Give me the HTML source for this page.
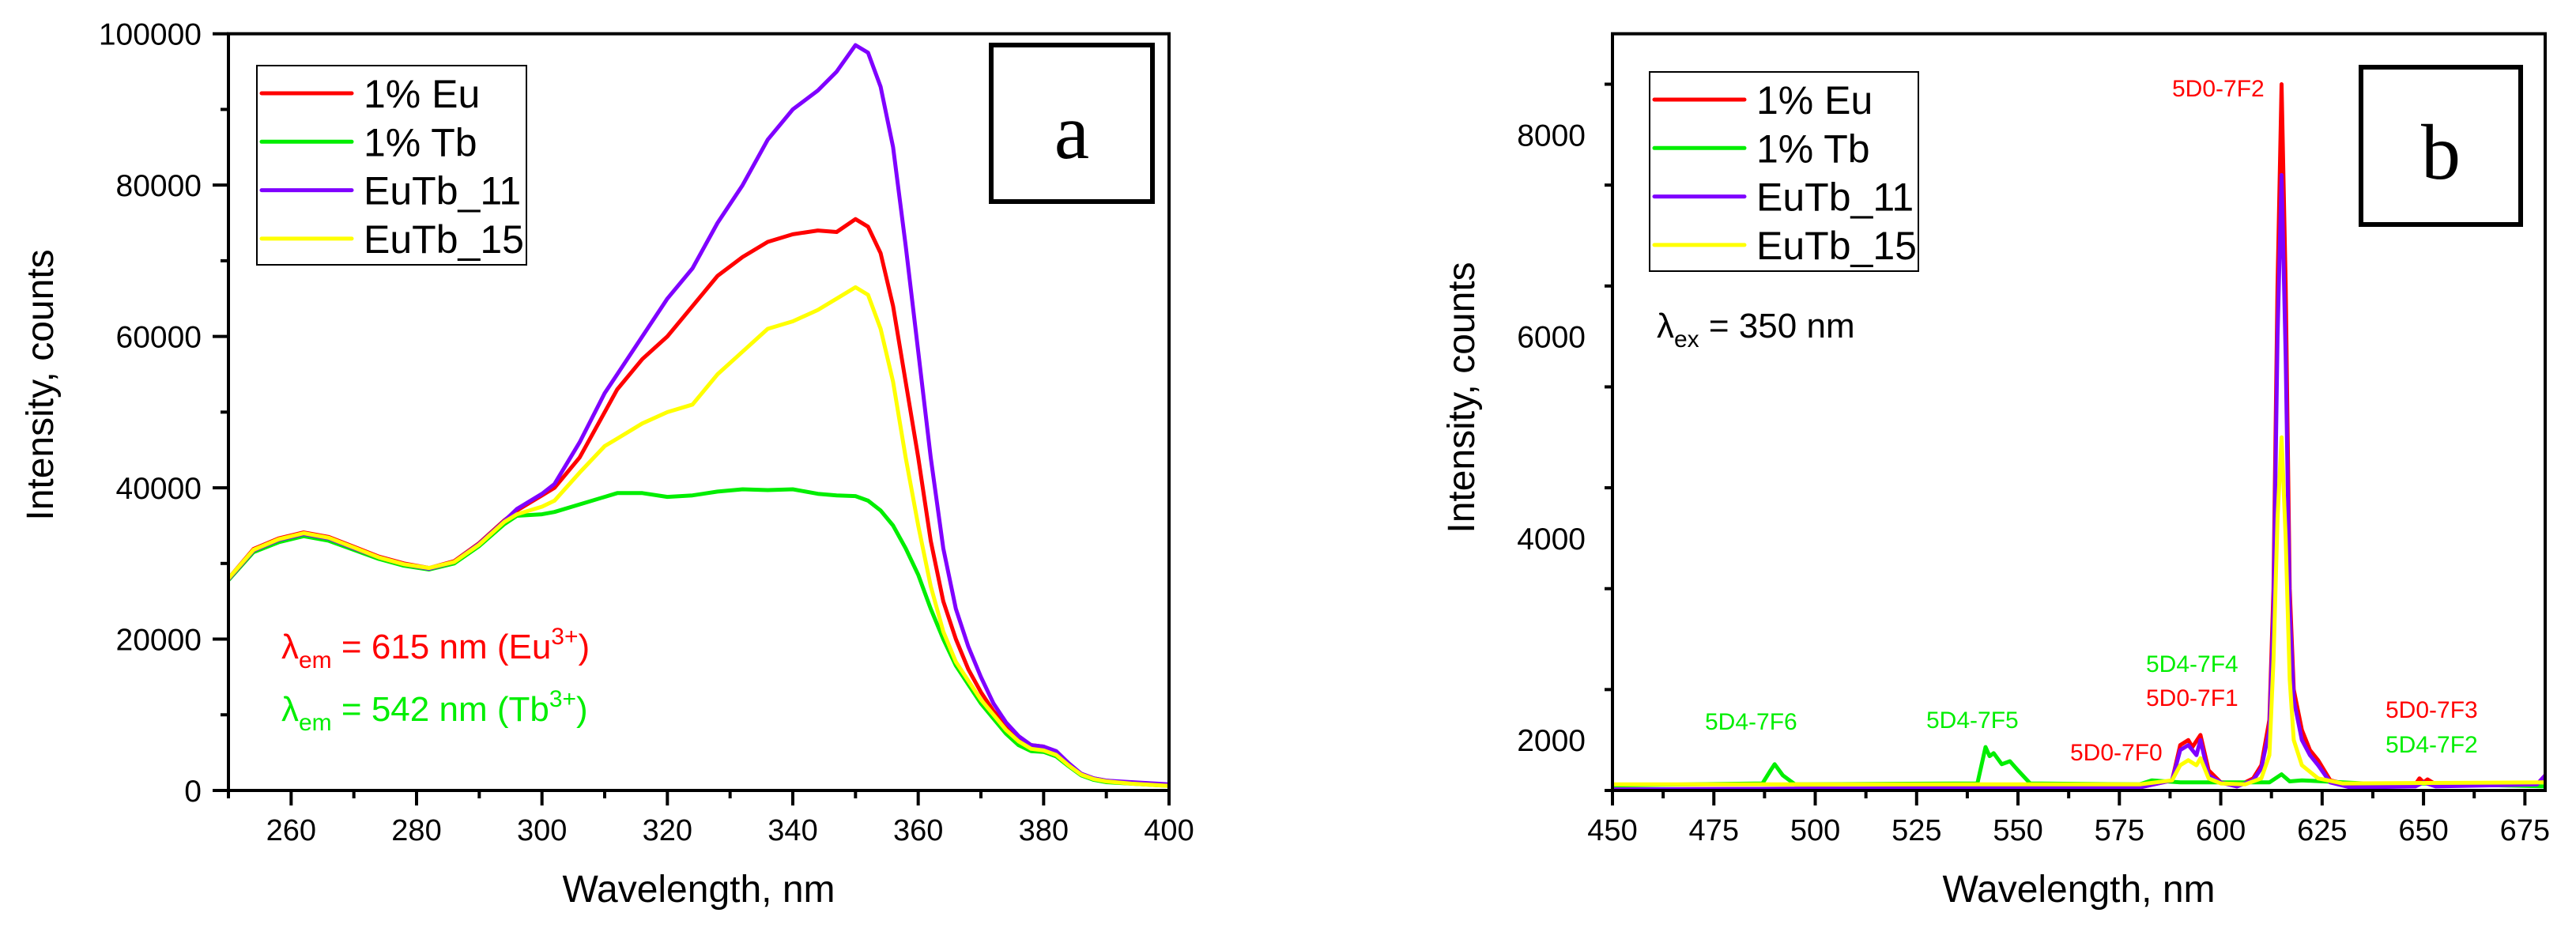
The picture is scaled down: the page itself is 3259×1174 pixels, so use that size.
<!DOCTYPE html>
<html><head><meta charset="utf-8">
<style>
html,body{margin:0;padding:0;background:#fff;}
svg{display:block;font-family:"Liberation Sans",Arial,sans-serif;}
</style></head>
<body>
<svg id="fig" xmlns="http://www.w3.org/2000/svg" width="3259" height="1174" viewBox="0 0 3259 1174">
<rect width="3259" height="1174" fill="#fff"/>
<g id="pa"></g>
<g id="pb"></g>
</svg>
<script>
// ---- Panel a data (excitation spectra) ----
const xA = [250,254,258,262,266,270,274,278,282,286,290,294,296,300,302,306,310,312,316,320,324,328,332,336,340,344,347,350,352,354,356,358,360,362,364,366,368,370,372,374,376,378,380,382,384,386,388,390,394,400];
const euEarlyA = [28000,31900,33300,34100,33500,32200,30900,30000,29400,30300,32700,35700];
const tbEarlyA = [27800,31500,32800,33600,33000,31800,30600,29700,29200,30000,32300,35200];
const p11EarlyA = [27900,31700,33100,33900,33300,32000,30800,29900,29300,30200,32600,35600];
const p15EarlyA = [28000,31800,33200,34000,33400,32100,30800,29900,29400,30200,32500,35500];
const euA = [37000,39000,40000,44000,50000,53000,57000,60000,64000,68000,70500,72500,73500,74000,73800,75500,74500,71000,64000,54000,44000,33000,25000,20000,16000,13000,10500,8500,7000,6000,5800,5000,3500,2200,1600,1300,1000,700];
const tbA = [36300,36500,36800,37800,38800,39300,39300,38800,39000,39500,39800,39700,39800,39200,39000,38900,38300,37000,35000,32000,28500,24000,20000,16500,14000,11500,9500,7500,6000,5200,5100,4500,3200,2000,1400,1100,900,600];
const eutb11A = [37200,39200,40500,46000,52500,55000,60000,65000,69000,75000,80000,86000,90000,92500,95000,98500,97500,93000,85000,72000,58000,44000,32000,24000,19000,15000,11500,9000,7200,6000,5800,5200,3600,2200,1600,1300,1100,800];
const eutb15A = [36500,37500,38300,42000,45500,46500,48500,50000,51000,55000,58000,61000,62000,63500,65000,66500,65500,61000,54000,44000,35000,27000,21000,17000,14500,12000,10000,8000,6500,5500,5300,4700,3300,2100,1500,1200,900,600];
const xTicksA = [260,280,300,320,340,360,380,400];
const yTicksA = [0,20000,40000,60000,80000,100000];

// ---- Panel b data (emission spectra) ----
const euBx = [450,580,588,590,592,593,595,597,600,604,608,610,612,613,614,615,616,617,618,620,622,624,627,632,648,649,650,651,653,678,680];
const euBy = [1510,1530,1600,1950,2000,1930,2050,1700,1580,1540,1620,1750,2200,3500,6500,8500,6500,3500,2500,2100,1900,1800,1600,1550,1560,1620,1580,1610,1560,1560,1650];
const tbBx = [450,487,489,490,492,495,540,542,543,544,546,548,550,553,580,583,590,612,615,617,620,640,650,680];
const tbBy = [1550,1570,1700,1760,1650,1560,1570,1930,1840,1870,1760,1790,1700,1570,1560,1600,1580,1580,1660,1590,1600,1560,1570,1540];
const eutb11Bx = [450,580,588,590,592,594,595,597,600,604,608,610,612,613,614,615,616,617,618,620,622,624,627,632,648,650,653,678,680];
const eutb11By = [1510,1530,1600,1900,1950,1850,2000,1650,1580,1540,1600,1720,2100,3300,6000,7600,5800,3300,2400,2000,1850,1750,1580,1530,1540,1580,1540,1560,1650];
const eutb15Bx = [450,580,588,590,592,594,595,597,600,606,610,612,613,614,615,616,617,618,620,624,630,680];
const eutb15By = [1560,1560,1600,1750,1800,1750,1820,1620,1570,1560,1620,1850,2800,4200,5000,4000,2600,2000,1750,1620,1570,1580];
const xTicksB = [450,475,500,525,550,575,600,625,650,675];
const yTicksB = [2000,4000,6000,8000];

const NS = "http://www.w3.org/2000/svg";
function mk(tag, parent, attrs){
  const e = document.createElementNS(NS, tag);
  for (const k in attrs) e.setAttribute(k, attrs[k]);
  parent.appendChild(e);
  return e;
}
const COL = {eu:"#ff0000", tb:"#00ee00", p:"#7f00ff", y:"#ffff00"};

function panel(g, cfg){
  const sx = v => cfg.L + (v - cfg.x0)/(cfg.x1 - cfg.x0)*(cfg.R - cfg.L);
  const sy = v => cfg.B - (v - cfg.y0)/(cfg.y1 - cfg.y0)*(cfg.B - cfg.T);
  cfg.series.forEach(s => {
    let d = "";
    s.x.forEach((xv,i) => { d += (i?"L":"M") + sx(xv).toFixed(1) + "," + sy(s.y[i]).toFixed(1); });
    const p = mk("path", g, {d:d, fill:"none", stroke:s.c, "stroke-width":5, "stroke-linejoin":"round"});
    
    
  });
  const fr = mk("rect", g, {x:cfg.L, y:cfg.T, width:cfg.R-cfg.L, height:cfg.B-cfg.T, fill:"none", stroke:"#000", "stroke-width":4});
  
  
  for (let v = cfg.x0; v <= cfg.x1 + 0.01; v += cfg.xminor){
    const major = cfg.xt.some(t => Math.abs(t - v) < 0.01);
    const t = mk("line", g, {x1:sx(v), x2:sx(v), y1:cfg.B, y2:cfg.B + (major?19:10), stroke:"#000", "stroke-width":4});
    
    
  }
  cfg.xt.forEach(v => {
    const t = mk("text", g, {x:sx(v), y:1063, "font-size":38, "text-anchor":"middle", fill:"#000"});
    t.textContent = v;
    
    
  });
  for (let v = cfg.y0; v <= cfg.y1 + 0.01; v += cfg.yminor){
    const major = cfg.yt.some(t => Math.abs(t - v) < 0.01);
    const t = mk("line", g, {x1:cfg.L - (major?20:10), x2:cfg.L, y1:sy(v), y2:sy(v), stroke:"#000", "stroke-width":4});
    
    
  }
  cfg.yt.forEach(v => {
    const t = mk("text", g, {x:cfg.L - 34, y:sy(v) + 14, "font-size":39, "text-anchor":"end", fill:"#000"});
    t.textContent = v;
    
    
  });
  const xt = mk("text", g, {x:(cfg.L+cfg.R)/2, y:1141, "font-size":48, "text-anchor":"middle", fill:"#000"});
  xt.textContent = "Wavelength, nm";
  
  
  const yt = mk("text", g, {x:0, y:0, "font-size":48, "text-anchor":"middle", fill:"#000", transform:"translate("+cfg.ytx+","+cfg.yty+") rotate(-90)"});
  yt.textContent = "Intensity, counts";
  
  
  const lg = mk("g", g, {});
  
  
  mk("rect", lg, {x:cfg.lg.x, y:cfg.lg.y, width:cfg.lg.w, height:cfg.lg.h, fill:"#fff", stroke:"#000", "stroke-width":2});
  cfg.series.forEach((s,i) => {
    const yy = cfg.lg.y + 35 + i*61.3;
    const en = mk("g", lg, {});
    
    
    mk("line", en, {x1:cfg.lg.x+6, x2:cfg.lg.x+120, y1:yy, y2:yy, stroke:s.c, "stroke-width":5, "stroke-linecap":"round"});
    const t = mk("text", en, {x:cfg.lg.x+135, y:yy+18, "font-size":50, fill:"#000"});
    t.textContent = s.label;
  });
  const lb = mk("g", g, {});
  
  
  mk("rect", lb, {x:cfg.box.x, y:cfg.box.y, width:cfg.box.w, height:cfg.box.h, fill:"none", stroke:"#000", "stroke-width":6});
  const bt = mk("text", lb, {x:cfg.box.x + cfg.box.w/2, y:cfg.box.ty, "font-size":100, "text-anchor":"middle", "font-family":"Liberation Serif, serif", fill:"#000"});
  bt.textContent = cfg.box.t;
}

panel(document.getElementById('pa'), {
  L:289, R:1479, T:42.7, B:1000, x0:250, x1:400, y0:0, y1:100000, xminor:10, yminor:10000,
  xt:xTicksA, yt:yTicksA, ytx:67, yty:487,
  lg:{x:325, y:83, w:341, h:252},
  box:{x:1254, y:57, w:204, h:198, t:"a", ty:200},
  series:[
    {name:"eu-1pct", label:"1% Eu", c:COL.eu, x:xA, y:euEarlyA.concat(euA)},
    {name:"tb-1pct", label:"1% Tb", c:COL.tb, x:xA, y:tbEarlyA.concat(tbA)},
    {name:"eutb-11", label:"EuTb_11", c:COL.p, x:xA, y:p11EarlyA.concat(eutb11A)},
    {name:"eutb-15", label:"EuTb_15", c:COL.y, x:xA, y:p15EarlyA.concat(eutb15A)}
  ]
});
panel(document.getElementById('pb'), {
  L:2040, R:3220, T:42.7, B:1000, x0:450, x1:680, y0:1500, y1:9000, xminor:12.5, yminor:1000,
  xt:xTicksB, yt:yTicksB, ytx:1865, yty:503,
  lg:{x:2087, y:91, w:340, h:252},
  box:{x:2987, y:85, w:202, h:199, t:"b", ty:226},
  series:[
    {name:"eu-1pct", label:"1% Eu", c:COL.eu, x:euBx, y:euBy},
    {name:"tb-1pct", label:"1% Tb", c:COL.tb, x:tbBx, y:tbBy},
    {name:"eutb-11", label:"EuTb_11", c:COL.p, x:eutb11Bx, y:eutb11By},
    {name:"eutb-15", label:"EuTb_15", c:COL.y, x:eutb15Bx, y:eutb15By}
  ]
});
</script>
<svg style="position:absolute;left:0;top:0" width="3259" height="1174" xmlns="http://www.w3.org/2000/svg">
<g font-family="Liberation Sans, Arial, sans-serif">
<text x="356" y="833" font-size="44" fill="#ff0000">λ<tspan font-size="30" dy="12">em</tspan><tspan dy="-12"> =  615 nm (Eu</tspan><tspan font-size="30" dy="-18">3+</tspan><tspan dy="18">)</tspan></text>
<text x="356" y="912" font-size="44" fill="#00ee00">λ<tspan font-size="30" dy="12">em</tspan><tspan dy="-12"> = 542 nm (Tb</tspan><tspan font-size="30" dy="-18">3+</tspan><tspan dy="18">)</tspan></text>
<text x="2096" y="427" font-size="44" fill="#000">λ<tspan font-size="30" dy="12">ex</tspan><tspan dy="-12"> = 350 nm</tspan></text>
<g font-size="30">
<text x="2748" y="122" fill="#ff0000">5D0-7F2</text>
<text x="2715" y="850" fill="#00ee00">5D4-7F4</text>
<text x="2715" y="893" fill="#ff0000">5D0-7F1</text>
<text x="2619" y="962" fill="#ff0000">5D0-7F0</text>
<text x="2157" y="923" fill="#00ee00">5D4-7F6</text>
<text x="2437" y="921" fill="#00ee00">5D4-7F5</text>
<text x="3018" y="908" fill="#ff0000">5D0-7F3</text>
<text x="3018" y="952" fill="#00ee00">5D4-7F2</text>
</g>
</g>
</svg>
</body></html>
